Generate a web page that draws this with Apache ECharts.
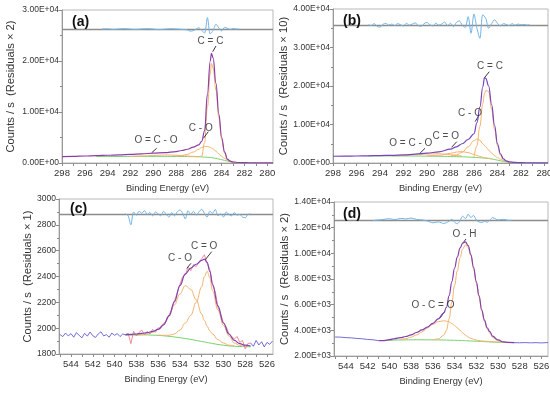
<!DOCTYPE html>
<html><head><meta charset="utf-8">
<script src="https://cdn.jsdelivr.net/npm/echarts@6/dist/echarts.min.js"></script>
<style>html,body{margin:0;padding:0;background:#fff}#c{width:550px;height:394px}</style>
</head><body><div id="c"></div>
<script>
// ---------- Panel (a): C 1s ----------
const eA   = [298,297,296,295,294,293,292,291,290,289,288,287.5,287,286.5,286,285.75,285.5,285.25,285,284.9,284.75,284.5,284.25,284,283.75,283.5,283.25,283,282.5,282,281,280,279.5];
const envA = [1250,1300,1370,1440,1520,1600,1700,1800,1920,2050,2250,2450,2700,3100,3550,4250,6300,13500,20000,21500,20600,15600,9600,5000,2200,750,350,200,100,60,40,30,30];
const bgA  = [null,null,null,1260,1270,1280,1290,1300,1300,1300,1290,1280,1270,1250,1220,1190,1160,1120,1070,1040,1000,900,780,650,520,380,250,150,50,10,null,null,null];
const ccA  = [null,null,null,null,null,null,null,null,null,null,null,null,null,null,1220,1350,4000,11000,17500,19500,18600,14300,8900,4600,2000,650,280,150,50,null,null,null,null];
const coA  = [null,null,null,null,null,null,null,null,null,null,1330,1450,1700,2150,2700,3050,3250,3250,3050,2950,2750,2300,1800,1300,900,600,350,180,null,null,null,null,null];
const ocoA = [null,null,null,null,null,null,1300,1360,1480,1580,1520,1440,1360,1290,1230,null,null,null,null,null,null,null,null,null,null,null,null,null,null,null,null,null,null];
const resAE = [294.5,294,293.5,293,292.5,292,291.5,291,290.5,290,289.5,289,288.5,288,287.5,287,286.75,286.5,286.25,286,285.75,285.5,285.25,285,284.75,284.5,284.25,284,283.75,283.5,283.25,283,282.75,282.5];
const resAV = [26270,26300,26200,26280,26330,26250,26200,26280,26330,26260,26150,26240,26320,26280,26200,26100,25850,25950,26250,26500,26000,25500,28500,25300,26000,27200,26500,25900,26600,26400,26200,26350,26280,26270];
const baseA = 26270;

// ---------- Panel (b): C 1s ----------
const eB   = [298,297,296,295,294,293,292,291,290,289,288,287.5,287,286.5,286,285.75,285.5,285.25,285.1,285,284.75,284.5,284.25,284,283.75,283.5,283.25,283,282.5,282,281,280,279.7];
const envB = [1750,1780,1820,1870,1930,2000,2100,2300,2550,2900,3600,4200,5000,6100,7600,10500,14500,19800,22200,22000,20000,15200,9800,5000,2400,1100,550,300,150,90,50,40,40];
const bgB  = [null,null,null,1850,1850,1840,1830,1810,1780,1740,1680,1640,1600,1540,1470,1420,1370,1300,1260,1230,1150,1050,900,750,580,420,280,170,60,15,null,null,null];
const ccB  = [null,null,null,null,null,null,null,null,null,null,null,null,null,null,1470,4500,9500,15500,18000,18800,18600,14000,8800,4500,2000,800,380,190,60,null,null,null,null];
const coB  = [null,null,null,null,null,null,null,null,null,null,1800,2100,2800,4200,5800,6250,5900,5000,4500,4200,3400,2600,1900,1400,1000,650,400,220,null,null,null,null,null];
const cdoB = [null,null,null,null,null,null,null,null,1850,2000,2500,2850,2950,2700,2250,1950,1700,1500,1400,1350,1220,1100,null,null,null,null,null,null,null,null,null,null,null];
const ocoB = [null,null,null,null,null,1880,1950,2150,2350,2400,2150,1950,1780,null,null,null,null,null,null,null,null,null,null,null,null,null,null,null,null,null,null,null,null];
const resBE = [295,294.75,294.5,294.25,294,293.75,293.5,293.25,293,292.75,292.5,292.25,292,291.75,291.5,291.25,291,290.75,290.5,290.25,290,289.75,289.5,289.25,289,288.75,288.5,288.25,288,287.75,287.5,287.25,287,286.75,286.5,286.25,286,285.75,285.5,285.25,285,284.75,284.5,284.25,284,283.75,283.5,283.25,283,282.75,282.5,282.25,282,281.75,281.5,281.25];
const resBV = [35900,35700,36200,35500,35300,36000,36300,35800,36100,35700,36200,35900,35600,36300,35800,36100,36400,35700,35500,36200,36500,35900,35600,36300,35800,36100,36600,35700,36300,35400,36500,36900,35800,35200,38000,33700,38700,35000,32400,38500,37600,35000,36200,37200,36300,35600,36200,36000,35700,36200,35800,36100,35900,36000,35850,35900];
const baseB = 35900;

// ---------- Panel (c): O 1s ----------
const eC   = [539,538.5,538,537.5,537,536.5,536,535.5,535,534.5,534,533.5,533,532.5,532,531.75,531.5,531.25,531,530.5,530,529.5,529,528.5,528,527.5];
const envC = [1950,1952,1955,1960,1965,1975,1990,2025,2095,2205,2330,2420,2465,2495,2525,2535,2510,2440,2340,2170,2040,1955,1905,1880,1868,1862];
const bgC  = [1945,1946,1947,1948,1948,1946,1944,1941,1937,1932,1926,1920,1913,1905,1897,1893,1889,1885,1881,1874,1868,1863,1860,1858,1857,1856];
const coC  = [null,null,1947,1950,1955,1968,1990,2030,2095,2180,2265,2330,2300,2220,2110,2060,2015,1980,1955,1910,1885,1868,1862,null,null,null];
const cdoC = [null,null,null,null,null,null,1946,1945,1945,1955,1985,2040,2100,2200,2320,2400,2440,2390,2290,2140,2020,1940,1885,1866,1858,null];
const rawCLE = [545,544.75,544.5,544.25,544,543.75,543.5,543.25,543,542.75,542.5,542.25,542,541.75,541.5,541.25,541,540.75,540.5,540.25,540,539.75,539.5,539.25,539];
const rawCLV = [1950,1935,1962,1940,1958,1930,1965,1945,1925,1960,1938,1970,1942,1928,1955,1972,1940,1950,1930,1962,1945,1958,1935,1955,1948];
const eCf = [539,538.75,538.5,538.25,538,537.75,537.5,537.25,537,536.75,536.5,536.25,536,535.75,535.5,535.25,535,534.75,534.5,534.25,534,533.75,533.5,533.25,533,532.75,532.5,532.25,532,531.75,531.5,531.25,531,530.75,530.5,530.25,530,529.75,529.5,529.25,529,528.75,528.5,528.25,528,527.75,527.5];
const rawCMV = [1948,1962,1880,1975,1940,1968,1985,1950,1975,1955,1992,1968,2002,1998,2038,2052,2102,2145,2212,2272,2338,2398,2412,2472,2445,2492,2476,2512,2538,2568,2503,2455,2332,2282,2162,2108,2042,2010,1958,1938,1915,1936,1890,1905,1840,1882,1885];
const rawCRE = [527.5,527.25,527,526.75,526.5,526.25,526,525.75,525.5];
const rawCRV = [1885,1860,1905,1870,1895,1855,1890,1875,1900];
const resCV = [2885,2870,2800,2900,2875,2905,2890,2910,2880,2895,2870,2900,2885,2870,2905,2880,2860,2895,2870,2900,2915,2890,2845,2910,2880,2905,2875,2900,2920,2890,2860,2905,2890,2920,2870,2885,2860,2900,2880,2870,2895,2875,2880,2860,2855,2880,2884];
const baseC = 2884;

// ---------- Panel (d): O 1s ----------
const eD   = [541,540.5,540,539.5,539,538.5,538,537.5,537,536.5,536,535.5,535,534.75,534.5,534.25,534,533.75,533.5,533.25,533,532.75,532.5,532.25,532,531.75,531.5,531.25,531,530.75,530.5,530,529.5,529,528.5];
const envD = [3200,3200,3270,3350,3430,3520,3650,3830,4030,4250,4550,4900,5350,5800,6700,7800,8850,9700,10400,10800,10900,10600,9900,8900,7800,6700,5600,4800,4200,3900,3550,3250,3100,3060,3040];
const bgD  = [null,3195,3215,3240,3250,3255,3260,3262,3262,3260,3258,3252,3245,3240,3235,3230,3225,3218,3210,3200,3190,3180,3170,3160,3150,3140,3130,3120,3110,3100,3090,3070,3055,3045,3035];
const ohD  = [null,null,null,null,null,null,null,null,null,null,3262,3330,3620,4000,4900,6200,7500,8650,9650,10350,10650,10450,9800,8800,7700,6600,5500,4700,4100,3780,3450,3180,3070,3045,null];
const ocoD = [null,null,null,null,3280,3350,3470,3640,3880,4180,4470,4680,4740,4720,4650,4530,4380,4200,4000,3800,3620,3480,3380,3300,3240,3200,3175,3155,3140,3120,3100,3070,null,null,null];
const rawDLE = [545,544.5,544,543.5,543,542.5,542,541.5,541];
const rawDLV = [3480,3470,3430,3410,3370,3340,3290,3260,3200];
const rawDRE = [528.5,528,527.5,527,526.5,526,525.5,525.4];
const rawDRV = [3040,3030,3045,3025,3040,3020,3045,3035];
const resDE = [541.5,541,540.5,540,539.5,539,538.5,538,537.5,537,536.5,536,535.5,535,534.5,534.25,534,533.75,533.5,533.25,533,532.75,532.5,532.25,532,531.75,531.5,531.25,531,530.75,530.5,530.25,530,529.5,529,528.75];
const resDV = [12560,12600,12650,12700,12620,12720,12680,12750,12640,12600,12520,12380,12450,12330,12500,12650,12420,12300,12550,12900,12700,13050,12800,12950,12600,12450,12400,12500,12420,12600,12780,12700,12600,12650,12560,12580];
const baseD = 12577;

// ---------- Tick labels ----------
const xTicksCarbon  = [280,281,282,283,284,285,286,287,288,289,290,291,292,293,294,295,296,297,298];
const xLabelsCarbon = [280,282,284,286,288,290,292,294,296,298];
const xTicksOxygen  = [526,527,528,529,530,531,532,533,534,535,536,537,538,539,540,541,542,543,544,545];
const xLabelsOxygen = [526,528,530,532,534,536,538,540,542,544];

// ---------- Annotations ----------
const annA = [{name:'C = C', value:[284.98,23780]},{name:'C - O', value:[285.83,6800]},{name:'O = C - O', value:[289.76,4510]}];
const leadA = [[[284.50,22940],[284.79,21820]],[[285.17,6140],[285.61,4840]],[[289.70,2880],[290.13,2020]]];
const annB = [{name:'C = C', value:[284.64,25010]},{name:'C - O', value:[286.34,12910]},{name:'C = O', value:[288.40,6830]},{name:'O = C - O', value:[291.38,5120]}];
const leadB = [[[284.70,23710],[285.15,22000]],[[285.60,12200],[285.91,10730]],[[287.47,5530],[287.90,4080]],[[290.17,3820],[290.60,2520]]];
const annC = [{name:'C = O', value:[531.77,2631]},{name:'C - O', value:[533.99,2541]}];
const leadC = [[[531.08,2592],[531.69,2528]],[[532.98,2502],[533.37,2463]]];
const annD = [{name:'O - H', value:[533.09,11483]},{name:'O - C = O', value:[535.99,5974]}];
const leadD = [[[532.95,11117],[533.23,10805]],[[534.88,5506],[535.34,4961]]];

const FONT = "'Liberation Sans',Arial,sans-serif";
const C_BG = '#76d16a', C_CMP = '#f5b26d', C_RES = '#72b4e6', C_BASE = '#8d8d8d';
const C_RAWB = '#4f48cf', C_RAWR = '#f0707c';

function pts(es, vs){ const o=[]; for(let i=0;i<es.length;i++){ if(vs[i]!==null && vs[i]!==undefined) o.push([es[i], vs[i]]); } return o; }
function sci(v){ const s=Number(v).toExponential(2).split('e'); const ex=parseInt(s[1],10); return s[0]+'E'+(ex<0?'-':'+')+String(Math.abs(ex)).padStart(2,'0'); }

const panels = [
  {grid:{left:62,top:10,width:211,height:153}, xmin:279.5, xmax:298, xt:xTicksCarbon, xl:xLabelsCarbon,
   ymin:0, ymax:30000, yint:10000, fmt:sci, yname:'Counts / s  (Residuals × 2)', ygap:46, envColor:'#8a3fa8',
   env:[eA,envA], bg:[eA,bgA], comps:[[eA,ccA],[eA,coA],[eA,ocoA]], res:[resAE,resAV], base:baseA, ann:annA, lead:leadA},
  {grid:{left:333,top:9,width:215,height:154}, xmin:279.7, xmax:298, xt:xTicksCarbon, xl:xLabelsCarbon,
   ymin:0, ymax:40000, yint:10000, fmt:sci, yname:'Counts / s  (Residuals × 10)', ygap:44, envColor:'#7446bb',
   env:[eB,envB], bg:[eB,bgB], comps:[[eB,ccB],[eB,coB],[eB,cdoB],[eB,ocoB]], res:[resBE,resBV], base:baseB, ann:annB, lead:leadB},
  {grid:{left:59,top:199,width:214,height:155}, xmin:525.45, xmax:545.1, xt:xTicksOxygen, xl:xLabelsOxygen,
   ymin:1800, ymax:3000, yint:200, fmt:(v)=>String(v), yname:'Counts / s  (Residuals × 1)', ygap:22, envColor:'#7d43b3',
   env:[eC,envC], bg:[eC,bgC], comps:[[eC,coC],[eC,cdoC]], res:[eCf,resCV], base:baseC, ann:annC, lead:leadC,
   raw:[[rawCLE,rawCLV,C_RAWB],[eCf,rawCMV,C_RAWR],[rawCRE,rawCRV,C_RAWB]]},
  {grid:{left:334,top:202,width:214,height:154}, xmin:525.4, xmax:545.1, xt:xTicksOxygen, xl:xLabelsOxygen,
   ymin:2000, ymax:14000, yint:2000, fmt:sci, yname:'Counts / s  (Residuals × 2)', ygap:44, envColor:'#8041ad',
   env:[eD,envD], bg:[eD,bgD], comps:[[eD,ohD],[eD,ocoD]], res:[resDE,resDV], base:baseD, ann:annD, lead:leadD,
   raw:[[rawDLE,rawDLV,C_RAWB],[rawDRE,rawDRV,C_RAWB]]}
];

const grids=[], xAxes=[], yAxes=[], series=[];
panels.forEach((p,i)=>{
  grids.push(Object.assign({show:true, borderColor:'#b9b9b9', borderWidth:1, backgroundColor:'#fff', containLabel:false, outerBoundsMode:'none'}, p.grid));
  xAxes.push({type:'value', gridIndex:i, inverse:true, min:p.xmin, max:p.xmax,
    axisLine:{show:true, onZero:false, lineStyle:{color:'#9a9a9a', width:1}},
    axisTick:{show:true, customValues:p.xt, length:3, lineStyle:{color:'#8a8a8a'}},
    axisLabel:{customValues:p.xl, fontSize:9.5, color:'#333', margin:5, fontFamily:FONT},
    splitLine:{show:false},
    name:'Binding Energy (eV)', nameLocation:'middle', nameGap:21,
    nameTextStyle:{fontSize:9.3, color:'#333', fontFamily:FONT}});
  yAxes.push({type:'value', gridIndex:i, min:p.ymin, max:p.ymax, interval:p.yint,
    axisLine:{show:true, lineStyle:{color:'#9a9a9a', width:1}},
    axisTick:{show:true, length:3, lineStyle:{color:'#8a8a8a'}},
    minorTick:{show:true, splitNumber:2, length:2, lineStyle:{color:'#8a8a8a'}},
    axisLabel:{formatter:p.fmt, fontSize:8.5, color:'#333', margin:3, fontFamily:FONT},
    splitLine:{show:false},
    name:p.yname, nameLocation:'middle', nameRotate:90, nameGap:p.ygap,
    nameTextStyle:{fontSize:11.2, color:'#333', fontFamily:FONT}});
  const base = {type:'line', xAxisIndex:i, yAxisIndex:i, showSymbol:false, symbol:'none', silent:true, animation:false};
  series.push(Object.assign({}, base, {data:pts(p.bg[0],p.bg[1]), smooth:0.4, lineStyle:{color:C_BG, width:1}, z:2}));
  p.comps.forEach(c=>series.push(Object.assign({}, base, {data:pts(c[0],c[1]), smooth:0.4, smoothMonotone:'x', lineStyle:{color:C_CMP, width:1}, z:3})));
  if(p.raw) p.raw.forEach(r=>series.push(Object.assign({}, base, {data:pts(r[0],r[1]), smooth:false, lineStyle:{color:r[2], width:0.8}, z:4})));
  series.push(Object.assign({}, base, {data:pts(p.env[0],p.env[1]), smooth:0.4, smoothMonotone:'x', lineStyle:{color:p.envColor, width:1.2}, z:5}));
  series.push(Object.assign({}, base, {data:pts(p.res[0],p.res[1]), smooth:0.3, lineStyle:{color:C_RES, width:1}, z:6,
    markLine:{silent:true, symbol:['none','none'], animation:false, label:{show:false}, lineStyle:{color:C_BASE, width:1.3, type:'solid'}, data:[{yAxis:p.base}]}}));
  series.push({type:'scatter', xAxisIndex:i, yAxisIndex:i, silent:true, animation:false, symbol:'circle', symbolSize:1,
    itemStyle:{color:'rgba(0,0,0,0)'}, z:8,
    label:{show:true, position:'inside', formatter:'{b}', fontSize:10, color:'#222', fontFamily:FONT},
    data:p.ann,
    markLine:{silent:true, symbol:['none','none'], animation:false, label:{show:false}, lineStyle:{color:'#222', width:0.9, type:'solid'},
      data:p.lead.map(l=>[{coord:l[0]},{coord:l[1]}])}});
});

const panelTags = [{t:'(a)', x:72, y:15},{t:'(b)', x:343, y:14},{t:'(c)', x:70, y:202},{t:'(d)', x:343, y:207}];

const chart = echarts.init(document.getElementById('c'), null, {renderer:'canvas'});
chart.setOption({
  animation:false,
  backgroundColor:'#fff',
  textStyle:{fontFamily:FONT},
  grid:grids, xAxis:xAxes, yAxis:yAxes, series:series,
  graphic:panelTags.map(g=>({type:'text', left:g.x, top:g.y, z:100, style:{text:g.t, fill:'#111', font:"bold 14px 'Liberation Sans', Arial, sans-serif"}}))
});
</script></body></html>
